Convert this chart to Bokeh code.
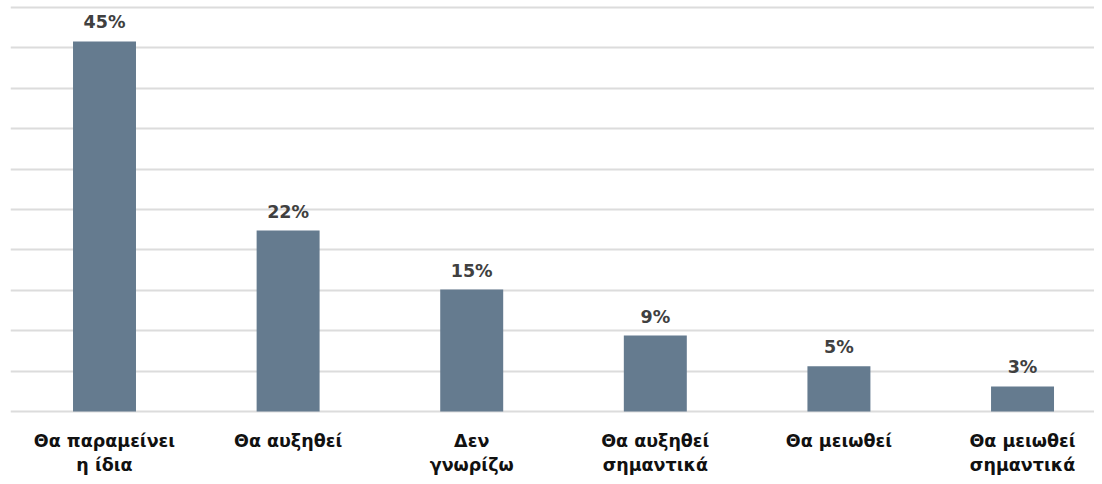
from bokeh.plotting import figure
from bokeh.models import ColumnDataSource, Range1d, FixedTicker
from bokeh.core.properties import value
from bokeh.embed import file_html
from bokeh.resources import INLINE

categories = ["Θα παραμείνει\nη ίδια", "Θα αυξηθεί", "Δεν\nγνωρίζω",
              "Θα αυξηθεί\nσημαντικά", "Θα μειωθεί", "Θα μειωθεί\nσημαντικά"]
values = [45.8, 22.4, 15.1, 9.4, 5.6, 3.1]
value_labels = ["45%", "22%", "15%", "9%", "5%", "3%"]
grid_ticks = [0, 5, 10, 15, 20, 25, 30, 35, 40, 45, 50]

xs = list(range(len(categories)))
src = ColumnDataSource(dict(x=xs, top=values, cat=categories, lab=value_labels,
                            zero=[0] * len(xs)))

p = figure(width=1094, height=476, output_backend="svg", toolbar_location=None,
           x_range=Range1d(-0.512, 5.392), y_range=Range1d(-8.04, 50.87),
           min_border_left=10, min_border_right=0, min_border_top=0, min_border_bottom=0)
p.outline_line_color = None
p.background_fill_color = "white"
p.border_fill_color = "white"

p.xaxis.visible = False
p.yaxis.visible = False
p.xgrid.grid_line_color = None
p.yaxis.ticker = FixedTicker(ticks=grid_ticks)
p.ygrid.ticker = FixedTicker(ticks=grid_ticks)
p.ygrid.grid_line_color = "#dcdcdc"
p.ygrid.grid_line_width = 2

p.vbar(x="x", top="top", bottom=0, width=0.343, source=src,
       fill_color="#657b8f", line_color=None)

p.text(x="x", y="top", text="lab", source=src, text_align="center",
       text_baseline="bottom", y_offset=-9,
       text_font=value("DejaVu Sans"), text_font_style="bold",
       text_font_size="17.5px", text_color="#404040")

p.text(x="x", y="zero", text="cat", source=src, text_align="center",
       text_baseline="top", y_offset=19, text_line_height=1.2,
       text_font=value("DejaVu Sans"), text_font_style="bold",
       text_font_size="17.5px", text_color="#111111")

open("out.html", "w").write(file_html(p, INLINE))
